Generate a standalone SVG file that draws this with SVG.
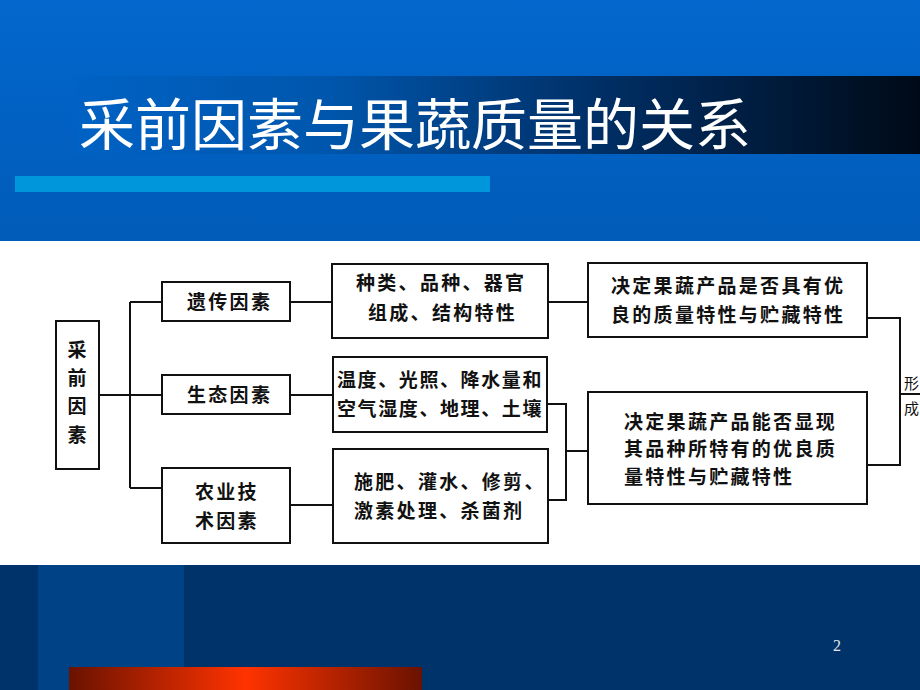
<svg xmlns="http://www.w3.org/2000/svg" width="920" height="690" viewBox="0 0 920 690">
<defs>
<linearGradient id="bgTop" x1="0" y1="0" x2="0" y2="1">
<stop offset="0" stop-color="#0367cd"/>
<stop offset="1" stop-color="#005bb8"/>
</linearGradient>
<linearGradient id="band" x1="0" y1="0" x2="1" y2="0">
<stop offset="0" stop-color="#0062c4"/>
<stop offset="0.3" stop-color="#0056ac"/>
<stop offset="0.62" stop-color="#002f66"/>
<stop offset="1" stop-color="#000a17"/>
</linearGradient>
<linearGradient id="red" x1="0" y1="0" x2="1" y2="0">
<stop offset="0" stop-color="#6a1200"/>
<stop offset="0.5" stop-color="#ff3300"/>
<stop offset="1" stop-color="#6a1200"/>
</linearGradient>
<style>
.box{fill:#fff;stroke:#111;stroke-width:2}
.ln{fill:none;stroke:#111;stroke-width:2}
.t{font-family:"Noto Sans CJK SC","Noto Sans CJK TC",sans-serif;font-size:19px;letter-spacing:2.3px;fill:#111;font-weight:700}
.title{font-family:"Noto Sans CJK SC",sans-serif;font-size:56px;fill:#fff}
</style>
</defs>
<rect x="0" y="0" width="920" height="241" fill="url(#bgTop)"/>
<rect x="76" y="76" width="844" height="78" fill="url(#band)"/>
<text class="title" x="79" y="145">采前因素与果蔬质量的关系</text>
<rect x="15" y="176" width="475" height="16" fill="#0096dc"/>
<rect x="0" y="241" width="920" height="324" fill="#fff"/>
<rect x="0" y="565" width="920" height="125" fill="#003369"/>
<rect x="38" y="565" width="146" height="125" fill="#004286"/>
<rect x="69" y="667" width="353" height="23" fill="url(#red)"/>
<text x="837" y="651" font-family="Liberation Serif, serif" font-size="16" fill="#e6e6f0" text-anchor="middle">2</text>

<g id="connectors">
<path class="ln" d="M99 395 H162"/>
<path class="ln" d="M130 302 V488"/>
<path class="ln" d="M130 302 H162"/>
<path class="ln" d="M130 488 H162"/>
<path class="ln" d="M290 302 H332"/>
<path class="ln" d="M290 395 H333"/>
<path class="ln" d="M290 505 H333"/>
<path class="ln" d="M548 302 H588"/>
<path class="ln" d="M547 404 H566 V500 H547"/>
<path class="ln" d="M566 451 H588"/>
<path class="ln" d="M867 318 H900 V465 H867"/>
<path class="ln" d="M900 394 H920"/>
</g>

<g id="n-root">
<rect class="box" x="56" y="321" width="43" height="148"/>
<text class="t" x="77" y="357" text-anchor="middle" style="letter-spacing:0">采</text>
<text class="t" x="77" y="385" text-anchor="middle" style="letter-spacing:0">前</text>
<text class="t" x="77" y="413" text-anchor="middle" style="letter-spacing:0">因</text>
<text class="t" x="77" y="442" text-anchor="middle" style="letter-spacing:0">素</text>
</g>
<g id="n-genetic">
<rect class="box" x="162" y="282" width="128" height="39"/>
<text class="t" x="187" y="309">遗传因素</text>
</g>
<g id="n-eco">
<rect class="box" x="162" y="375" width="128" height="39"/>
<text class="t" x="187" y="402">生态因素</text>
</g>
<g id="n-agri">
<rect class="box" x="162" y="468" width="128" height="75"/>
<text class="t" x="195" y="499">农业技</text>
<text class="t" x="195" y="528">术因素</text>
</g>
<g id="n-g1">
<rect class="box" x="332" y="264" width="216" height="74"/>
<text class="t" x="356" y="290">种类、品种、器官</text>
<text class="t" x="368" y="320">组成、结构特性</text>
</g>
<g id="n-e1">
<rect class="box" x="333" y="357" width="214" height="75"/>
<text class="t" x="337" y="387" style="letter-spacing:1.6px">温度、光照、降水量和</text>
<text class="t" x="337" y="416" style="letter-spacing:1.6px">空气湿度、地理、土壤</text>
</g>
<g id="n-a1">
<rect class="box" x="333" y="449" width="215" height="94"/>
<text class="t" x="354" y="489">施肥、灌水、修剪、</text>
<text class="t" x="354" y="518">激素处理、杀菌剂</text>
</g>
<g id="n-r1">
<rect class="box" x="588" y="263" width="279" height="74"/>
<text class="t" x="611" y="293">决定果蔬产品是否具有优</text>
<text class="t" x="611" y="322">良的质量特性与贮藏特性</text>
</g>
<g id="n-r2">
<rect class="box" x="588" y="392" width="279" height="112"/>
<text class="t" x="624" y="429">决定果蔬产品能否显现</text>
<text class="t" x="624" y="456">其品种所特有的优良质</text>
<text class="t" x="624" y="484">量特性与贮藏特性</text>
</g>
<g id="n-form">
<text class="t" x="904" y="389" style="letter-spacing:0;font-size:15px;font-weight:400">形</text>
<text class="t" x="904" y="414" style="letter-spacing:0;font-size:15px;font-weight:400">成</text>
</g>
</svg>
